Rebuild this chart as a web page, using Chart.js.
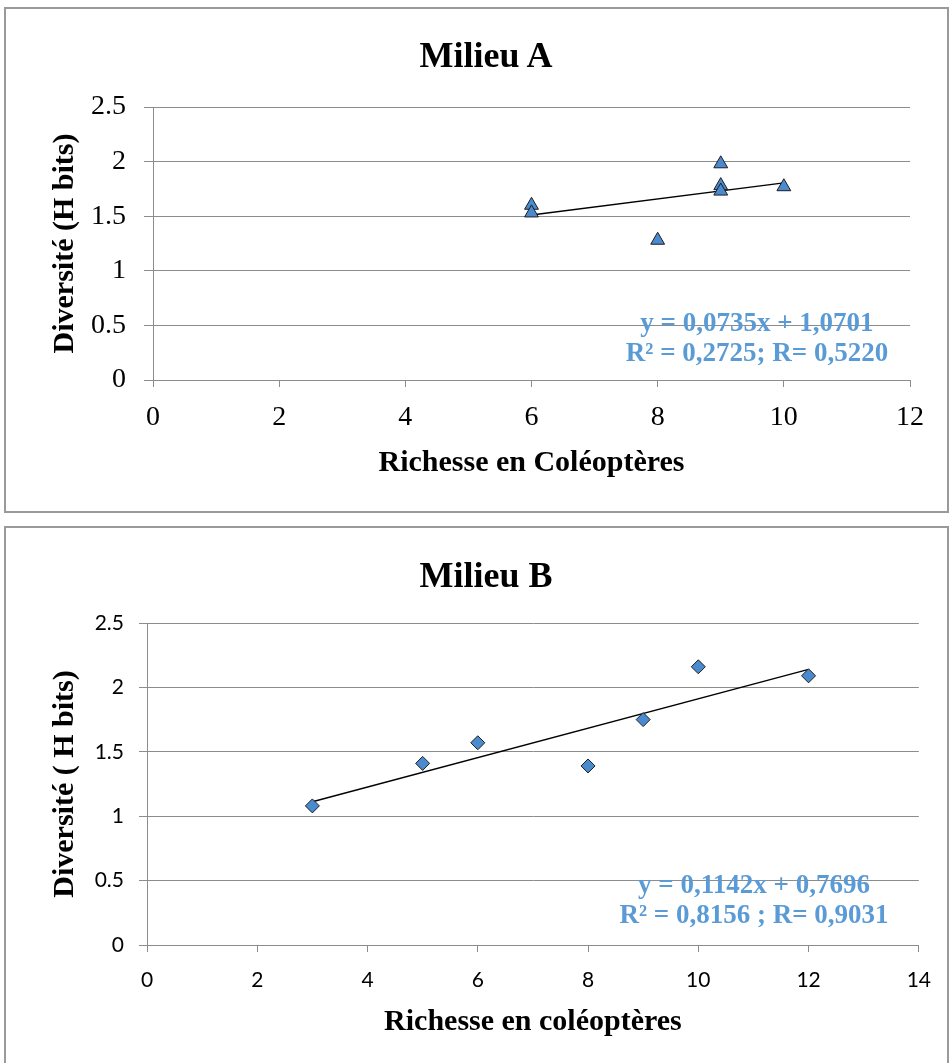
<!DOCTYPE html>
<html lang="fr">
<head>
<meta charset="utf-8">
<title>Milieu A / Milieu B</title>
<script src="https://cdn.jsdelivr.net/npm/chart.js@4.4.1/dist/chart.umd.min.js"></script>
<style>
    body { margin: 0; background: #fff; }
    .box {
        position: absolute;
        border: 2px solid #9a9a9a;
        background: #fff;
        overflow: hidden;
    }
    .box canvas { display: block; }
    .title, .eq {
        position: absolute;
        font-family: "Liberation Serif", "Times New Roman", serif;
        font-weight: bold;
        text-align: center;
        white-space: nowrap;
        transform: translateX(-50%);
    }
    .title {
        font-size: 36px;
        line-height: 43px;
        color: #000;
    }
    .eq {
        font-size: 27px;
        line-height: 30px;
        color: #5b9bd5;
    }
</style>
</head>
<body>

<div class="box" style="left:4px; top:7px; width:941px; height:502px;">
    <canvas id="chartA" width="941" height="502"></canvas>
    <div class="title" id="titleA" style="left:480px; top:25px;"></div>
    <div class="eq" id="eqA" style="left:751px; top:298px;"></div>
</div>

<div class="box" style="left:4px; top:526px; width:941px; height:540px;">
    <canvas id="chartB" width="941" height="540"></canvas>
    <div class="title" id="titleB" style="left:480px; top:26px;"></div>
    <div class="eq" id="eqB" style="left:748px; top:341px;"></div>
</div>

<script>
// Milieu A : richesse (x) et diversité H (y)
const richesseA = [6, 6, 8, 9, 9, 9, 10];
const diversiteA = [1.60, 1.53, 1.28, 1.98, 1.78, 1.73, 1.77];
const trendA = [0.0735, 1.0701]; // pente, ordonnée à l'origine
const equationA = ['y = 0,0735x + 1,0701', 'R² = 0,2725; R= 0,5220'];
const xTicksA = [0, 2, 4, 6, 8, 10, 12];

// Milieu B
const richesseB = [3, 5, 6, 8, 9, 10, 12];
const diversiteB = [1.08, 1.41, 1.57, 1.39, 1.75, 2.16, 2.09];
const trendB = [0.1142, 0.7696];
const equationB = ['y = 0,1142x + 0,7696', 'R² = 0,8156 ; R= 0,9031'];
const xTicksB = [0, 2, 4, 6, 8, 10, 12, 14];

const yTicks = [0, 0.5, 1, 1.5, 2, 2.5];

const serif = '"Liberation Serif", "Times New Roman", serif';
const gridColor = '#8c8c8c';

// Droite de tendance entre le plus petit et le plus grand x
function trendPoints(xs, coef) {
    const xMin = Math.min(...xs);
    const xMax = Math.max(...xs);
    return [
        { x: xMin, y: coef[0] * xMin + coef[1] },
        { x: xMax, y: coef[0] * xMax + coef[1] }
    ];
}

function buildChart(canvasId, opt) {
    const ctx = document.getElementById(canvasId).getContext('2d');
    return new Chart(ctx, {
        type: 'scatter',
        data: {
            datasets: [
                {
                    label: 'points',
                    data: opt.xs.map((x, i) => ({ x: x, y: opt.ys[i] })),
                    pointStyle: opt.pointStyle,
                    pointRadius: opt.pointRadius,
                    pointHoverRadius: opt.pointRadius,
                    backgroundColor: '#4a8bd0',
                    borderColor: '#1e1e1e',
                    borderWidth: 1
                },
                {
                    label: 'tendance',
                    type: 'line',
                    data: trendPoints(opt.xs, opt.trend),
                    borderColor: '#000',
                    borderWidth: 1.3,
                    pointRadius: 0,
                    fill: false
                }
            ]
        },
        options: {
            responsive: false,
            animation: false,
            layout: { padding: { left: 0, right: opt.padRight, top: opt.padTop, bottom: 0 } },
            plugins: {
                legend: { display: false },
                tooltip: { enabled: false },
                title: { display: false }
            },
            scales: {
                x: {
                    type: 'linear',
                    min: opt.xTicks[0],
                    max: opt.xTicks[opt.xTicks.length - 1],
                    afterBuildTicks: s => { s.ticks = opt.xTicks.map(v => ({ value: v })); },
                    afterFit: s => { s.height = opt.xHeight; },
                    grid: { drawOnChartArea: false, drawTicks: true, tickLength: 7, color: gridColor },
                    border: { color: gridColor, width: 1 },
                    ticks: {
                        color: '#000',
                        padding: opt.xTickPad,
                        maxRotation: 0,
                        font: opt.tickFont
                    },
                    title: {
                        display: true,
                        text: opt.xTitle,
                        color: '#000',
                        font: { family: serif, size: 30, weight: 'bold' },
                        padding: { top: 0, bottom: opt.xTitleBottom }
                    }
                },
                y: {
                    type: 'linear',
                    min: 0,
                    max: 2.5,
                    afterBuildTicks: s => { s.ticks = yTicks.map(v => ({ value: v })); },
                    afterFit: s => { s.width = opt.yWidth; },
                    grid: { color: gridColor, lineWidth: 1, tickLength: opt.yTickLen },
                    border: { color: gridColor, width: 1 },
                    ticks: {
                        color: '#000',
                        padding: opt.yTickPad,
                        font: opt.tickFont,
                        callback: v => String(v)
                    },
                    title: {
                        display: true,
                        text: opt.yTitle,
                        color: '#000',
                        font: { family: serif, size: 30, weight: 'bold' },
                        padding: { top: 41, bottom: 0 }
                    }
                }
            }
        }
    });
}

buildChart('chartA', {
    xs: richesseA, ys: diversiteA, trend: trendA, xTicks: xTicksA,
    xTitle: 'Richesse en Coléoptères', yTitle: 'Diversité (H bits)',
    pointStyle: 'triangle', pointRadius: 8,
    tickFont: { family: serif, size: 28 },
    padTop: 98,
    yWidth: 147, yTickLen: 9, yTickPad: 18,
    xHeight: 131, xTickPad: 14, xTitleBottom: 30,
    padRight: 37
});

buildChart('chartB', {
    xs: richesseB, ys: diversiteB, trend: trendB, xTicks: xTicksB,
    xTitle: 'Richesse en coléoptères', yTitle: 'Diversité ( H bits)',
    pointStyle: 'rectRot', pointRadius: 7,
    tickFont: { family: 'Lato, "Open Sans", sans-serif', size: 21 },
    padTop: 95,
    yWidth: 141, yTickLen: 8, yTickPad: 15,
    xHeight: 123, xTickPad: 16, xTitleBottom: 28,
    padRight: 26
});

document.getElementById('titleA').textContent = 'Milieu A';
document.getElementById('titleB').textContent = 'Milieu B';
document.getElementById('eqA').innerHTML = equationA.join('<br>');
document.getElementById('eqB').innerHTML = equationB.join('<br>');
</script>
</body>
</html>
